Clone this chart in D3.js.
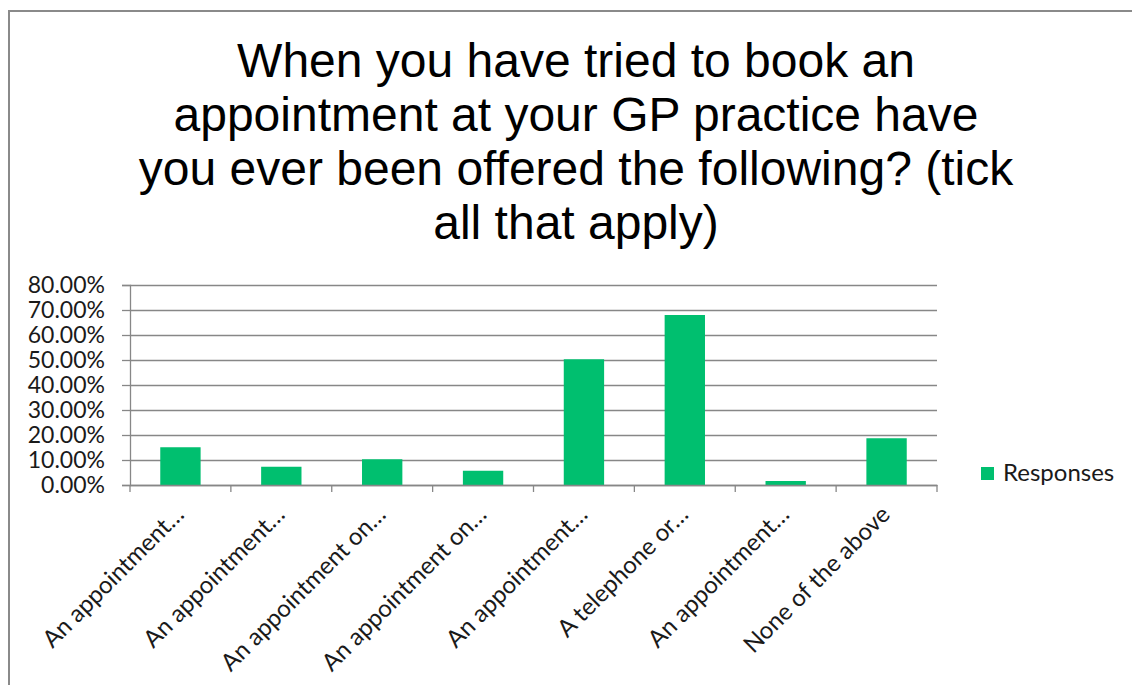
<!DOCTYPE html>
<html>
<head>
<meta charset="utf-8">
<script src="https://cdn.jsdelivr.net/npm/d3@7"></script>
<style>
  html, body { margin: 0; padding: 0; background: #fff; overflow: hidden; }
</style>
</head>
<body>
<svg id="chart" width="1132" height="685"></svg>
<script>
// Data
const categories = [
  "An appointment…",
  "An appointment…",
  "An appointment on…",
  "An appointment on…",
  "An appointment…",
  "A telephone or…",
  "An appointment…",
  "None of the above"
];
const responses = [0.151, 0.073, 0.103, 0.057, 0.503, 0.68, 0.016, 0.187];
const yTicks = [0, 0.1, 0.2, 0.3, 0.4, 0.5, 0.6, 0.7, 0.8];
const titleLines = [
  "When you have tried to book an",
  "appointment at your GP practice have",
  "you ever been offered the following? (tick",
  "all that apply)"
];
const seriesName = "Responses";

const svg = d3.select("#chart");
const labelFont = "Lato, 'Open Sans', sans-serif";
const green = "#00bf6f";
const gridColor = "#878787";
const textColor = "#1a1a1a";

// Outer chart border (right and bottom edges fall outside the window)
svg.append("rect")
  .attr("x", 9).attr("y", 11)
  .attr("width", 1200).attr("height", 800)
  .attr("fill", "#fff")
  .attr("stroke", "#8a8a8a")
  .attr("stroke-width", 2);

// Title
svg.append("text")
  .attr("text-anchor", "middle")
  .style("font-family", "'Liberation Sans', Arial, sans-serif")
  .style("font-size", "48px")
  .attr("fill", "#000")
  .selectAll("tspan")
  .data(titleLines)
  .join("tspan")
    .attr("x", 576)
    .attr("y", (d, i) => 77 + i * 54)
    .text(d => d);

// Scales
const plot = {left: 130, right: 937, top: 285, bottom: 485};
const idx = categories.map((d, i) => i);
const x = d3.scaleBand()
  .domain(idx)
  .range([plot.left, plot.right])
  .padding(0);
const y = d3.scaleLinear()
  .domain([0, 0.8])
  .range([plot.bottom, plot.top]);

// Y axis with gridlines
const yAxis = svg.append("g")
  .attr("transform", `translate(${plot.left},0)`)
  .call(d3.axisLeft(y)
    .tickValues(yTicks)
    .tickSize(8)
    .tickPadding(17)
    .tickFormat(d3.format(".2%")));
yAxis.select(".domain").attr("stroke", gridColor).attr("stroke-width", 1.3);
yAxis.selectAll(".tick line").attr("stroke", gridColor).attr("stroke-width", 1.3);
yAxis.selectAll(".tick text")
  .style("font-family", labelFont)
  .style("font-size", "23px")
  .attr("fill", textColor);
yAxis.selectAll(".tick")
  .append("line")
  .attr("x1", 0).attr("x2", plot.right - plot.left)
  .attr("stroke", gridColor)
  .attr("stroke-width", 1.3);

// Bars
const barW = x.bandwidth() * 0.4;
svg.append("g")
  .selectAll("rect")
  .data(responses)
  .join("rect")
    .attr("x", (d, i) => x(i) + (x.bandwidth() - barW) / 2)
    .attr("y", d => y(d))
    .attr("width", barW)
    .attr("height", d => y(0) - y(d))
    .attr("fill", green);

// X axis: line, boundary ticks and rotated labels
const xAxis = svg.append("g")
  .attr("transform", `translate(0,${plot.bottom})`)
  .call(d3.axisBottom(x).tickSize(0).tickFormat(i => categories[i]));
xAxis.select(".domain").attr("stroke", gridColor).attr("stroke-width", 1.3);
xAxis.selectAll(".tick text")
  .style("font-family", labelFont)
  .style("font-size", "24px")
  .attr("fill", textColor)
  .attr("text-anchor", "end")
  .attr("dy", 0)
  .attr("y", 0)
  .attr("transform", "translate(5,31) rotate(-45)");

const bounds = idx.map(i => x(i)).concat([x(idx[idx.length - 1]) + x.bandwidth()]);
xAxis.selectAll(".bound")
  .data(bounds)
  .join("line")
    .attr("class", "bound")
    .attr("x1", d => d).attr("x2", d => d)
    .attr("y1", 0).attr("y2", 7)
    .attr("stroke", gridColor)
    .attr("stroke-width", 1.3);

// Legend
const legend = svg.append("g").attr("transform", "translate(981,467)");
legend.append("rect")
  .attr("width", 13).attr("height", 13)
  .attr("fill", green);
legend.append("text")
  .attr("x", 22).attr("y", 14)
  .style("font-family", labelFont)
  .style("font-size", "24px")
  .attr("fill", textColor)
  .text(seriesName);
</script>
</body>
</html>
